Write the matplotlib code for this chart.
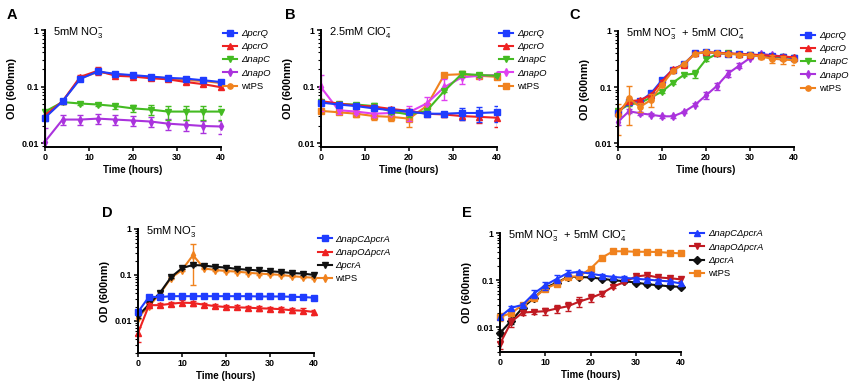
import numpy as np
import matplotlib
matplotlib.use('Agg')
from matplotlib import pyplot as plt

plt.rcParams['font.family'] = ['Liberation Sans', 'DejaVu Sans']
plt.rcParams['mathtext.fontset'] = 'custom'
plt.rcParams['mathtext.rm'] = 'Liberation Sans'
plt.rcParams['mathtext.it'] = 'Liberation Sans:italic'
plt.rcParams['mathtext.bf'] = 'Liberation Sans:bold'

# ---- data (OD600) ----
t4 = [0, 4, 8, 12, 16, 20, 24, 28, 32, 36, 40]
t25 = [0, 2.5, 5, 7.5, 10, 12.5, 15, 17.5, 20, 22.5, 25, 27.5, 30, 32.5, 35, 37.5, 40]

labels_abc = ['ΔpcrQ', 'ΔpcrO', 'ΔnapC', 'ΔnapO', 'wtPS']
labels_de = ['ΔnapCΔpcrA', 'ΔnapOΔpcrA', 'ΔpcrA', 'wtPS']

# A: 5mM NO3-
a_pcrQ = [0.028, 0.055, 0.136, 0.185, 0.167, 0.159, 0.150, 0.142, 0.138, 0.129, 0.120]
a_pcrO = [0.031, 0.055, 0.148, 0.190, 0.155, 0.150, 0.140, 0.134, 0.120, 0.110, 0.097]
a_napC = [0.036, 0.053, 0.050, 0.048, 0.045, 0.041, 0.039, 0.036, 0.036, 0.036, 0.036]
a_napO = [0.0106, 0.026, 0.026, 0.027, 0.026, 0.025, 0.024, 0.022, 0.021, 0.020, 0.0196]
a_wtPS = [0.029, 0.055, 0.140, 0.180, 0.165, 0.155, 0.148, 0.140, 0.130, 0.125, 0.115]
a_err_pcrQ = [0.003, 0.004, 0.01, 0.02, 0.01, 0.008, 0.008, 0.008, 0.008, 0.008, 0.008]
a_err_pcrO = [0.003, 0.004, 0.01, 0.03, 0.01, 0.008, 0.008, 0.008, 0.008, 0.008, 0.006]
a_err_napC = [0.003, 0.003, 0.003, 0.003, 0.005, 0.006, 0.008, 0.01, 0.01, 0.01, 0.01]
a_err_napO = [0.0075, 0.005, 0.005, 0.005, 0.005, 0.005, 0.005, 0.005, 0.005, 0.005, 0.005]
a_err_wtPS = [0.002, 0.003, 0.005, 0.01, 0.005, 0.005, 0.005, 0.005, 0.005, 0.005, 0.005]

# B: 2.5mM ClO4-
b_pcrQ = [0.052, 0.048, 0.045, 0.041, 0.038, 0.036, 0.033, 0.033, 0.034, 0.034, 0.035]
b_pcrO = [0.055, 0.050, 0.046, 0.044, 0.040, 0.037, 0.033, 0.032, 0.030, 0.029, 0.028]
b_napC = [0.054, 0.049, 0.048, 0.045, 0.036, 0.032, 0.037, 0.083, 0.167, 0.160, 0.155]
b_napO = [0.097, 0.038, 0.036, 0.033, 0.034, 0.035, 0.050, 0.097, 0.145, 0.155, 0.160]
b_wtPS = [0.037, 0.035, 0.033, 0.030, 0.029, 0.027, 0.045, 0.160, 0.165, 0.155, 0.148]
b_err_pcrQ = [0.004, 0.003, 0.003, 0.003, 0.003, 0.003, 0.003, 0.003, 0.008, 0.01, 0.011]
b_err_pcrO = [0.003, 0.003, 0.003, 0.003, 0.003, 0.003, 0.003, 0.003, 0.004, 0.006, 0.009]
b_err_napC = [0.003, 0.003, 0.004, 0.006, 0.003, 0.003, 0.003, 0.003, 0.02, 0.015, 0.01]
b_err_napO = [0.06, 0.005, 0.004, 0.004, 0.003, 0.01, 0.015, 0.04, 0.035, 0.01, 0.01]
b_err_wtPS = [0.003, 0.003, 0.004, 0.004, 0.004, 0.008, 0.005, 0.01, 0.01, 0.01, 0.01]

# C: 5mM NO3- + 5mM ClO4-
c_pcrQ = [0.035, 0.054, 0.056, 0.077, 0.133, 0.204, 0.26, 0.40, 0.42, 0.40, 0.39, 0.39, 0.38, 0.37, 0.36, 0.35, 0.33]
c_pcrO = [0.036, 0.056, 0.058, 0.072, 0.125, 0.21, 0.25, 0.40, 0.42, 0.41, 0.40, 0.39, 0.38, 0.37, 0.36, 0.35, 0.34]
c_napC = [0.037, 0.049, 0.052, 0.065, 0.083, 0.12, 0.165, 0.174, 0.31, 0.39, 0.40, 0.38, 0.37, 0.36, 0.35, 0.34, 0.33]
c_napO = [0.024, 0.037, 0.034, 0.032, 0.030, 0.030, 0.036, 0.048, 0.071, 0.105, 0.174, 0.24, 0.33, 0.39, 0.37, 0.35, 0.33]
c_wtPS = [0.032, 0.063, 0.044, 0.059, 0.11, 0.195, 0.26, 0.39, 0.42, 0.40, 0.39, 0.38, 0.37, 0.35, 0.32, 0.31, 0.30]
c_err_pcrQ = [0.002, 0.003, 0.003, 0.004, 0.008, 0.01, 0.01, 0.02, 0.02, 0.02, 0.02, 0.02, 0.02, 0.02, 0.02, 0.02, 0.02]
c_err_pcrO = [0.002, 0.003, 0.003, 0.004, 0.008, 0.01, 0.01, 0.02, 0.02, 0.02, 0.02, 0.02, 0.02, 0.02, 0.02, 0.02, 0.02]
c_err_napC = [0.002, 0.003, 0.003, 0.004, 0.005, 0.008, 0.01, 0.03, 0.02, 0.02, 0.02, 0.02, 0.02, 0.02, 0.02, 0.02, 0.02]
c_err_napO = [0.003, 0.003, 0.002, 0.002, 0.002, 0.002, 0.002, 0.003, 0.01, 0.015, 0.025, 0.025, 0.02, 0.02, 0.02, 0.02, 0.02]
c_err_wtPS = [0.018, 0.042, 0.008, 0.015, 0.01, 0.01, 0.01, 0.01, 0.01, 0.01, 0.01, 0.01, 0.02, 0.04, 0.05, 0.05, 0.05]

# D: 5mM NO3- (double mutants)
d_napCpcrA = [0.0156, 0.0335, 0.033, 0.0345, 0.0345, 0.0345, 0.0345, 0.0345, 0.0345, 0.0345, 0.0345, 0.034, 0.034, 0.034, 0.0335, 0.033, 0.032]
d_napOpcrA = [0.0054, 0.022, 0.022, 0.0236, 0.0249, 0.0245, 0.0225, 0.021, 0.020, 0.0197, 0.0194, 0.0188, 0.0185, 0.018, 0.017, 0.0167, 0.0156]
d_pcrA = [0.0128, 0.0229, 0.041, 0.089, 0.141, 0.165, 0.16, 0.15, 0.145, 0.135, 0.13, 0.125, 0.12, 0.116, 0.11, 0.107, 0.10]
d_wtPS = [0.0118, 0.021, 0.039, 0.086, 0.128, 0.27, 0.139, 0.128, 0.122, 0.118, 0.112, 0.107, 0.104, 0.10, 0.094, 0.09, 0.087]
d_err_napCpcrA = [0.002, 0.002, 0.002, 0.002, 0.002, 0.002, 0.002, 0.002, 0.002, 0.002, 0.002, 0.002, 0.002, 0.002, 0.002, 0.002, 0.002]
d_err_napOpcrA = [0.002, 0.002, 0.002, 0.002, 0.003, 0.003, 0.002, 0.002, 0.002, 0.002, 0.002, 0.002, 0.002, 0.002, 0.002, 0.002, 0.002]
d_err_pcrA = [0.001, 0.002, 0.003, 0.005, 0.005, 0.005, 0.005, 0.005, 0.005, 0.005, 0.005, 0.005, 0.005, 0.005, 0.005, 0.005, 0.005]
d_err_wtPS = [0.001, 0.002, 0.003, 0.005, 0.005, 0.21, 0.005, 0.005, 0.005, 0.005, 0.005, 0.005, 0.005, 0.005, 0.005, 0.005, 0.005]

# E: 5mM NO3- + 5mM ClO4- (double mutants)
e_napCpcrA = [0.0167, 0.026, 0.030, 0.052, 0.078, 0.106, 0.142, 0.15, 0.138, 0.125, 0.117, 0.112, 0.107, 0.103, 0.098, 0.094, 0.085]
e_napOpcrA = [0.0045, 0.0131, 0.0206, 0.0213, 0.022, 0.025, 0.028, 0.035, 0.042, 0.052, 0.073, 0.091, 0.12, 0.127, 0.114, 0.11, 0.104]
e_pcrA = [0.0076, 0.0138, 0.026, 0.042, 0.069, 0.088, 0.117, 0.117, 0.114, 0.107, 0.10, 0.095, 0.089, 0.082, 0.078, 0.074, 0.072]
e_wtPS = [0.0167, 0.020, 0.030, 0.042, 0.066, 0.084, 0.117, 0.121, 0.175, 0.30, 0.41, 0.41, 0.40, 0.40, 0.395, 0.38, 0.37]
e_err_napCpcrA = [0.002, 0.003, 0.003, 0.01, 0.015, 0.02, 0.02, 0.01, 0.008, 0.008, 0.008, 0.008, 0.008, 0.008, 0.008, 0.008, 0.008]
e_err_napOpcrA = [0.001, 0.003, 0.002, 0.002, 0.004, 0.005, 0.006, 0.008, 0.008, 0.006, 0.005, 0.005, 0.008, 0.008, 0.006, 0.006, 0.006]
e_err_pcrA = [0.001, 0.002, 0.002, 0.003, 0.005, 0.005, 0.005, 0.005, 0.005, 0.005, 0.005, 0.005, 0.005, 0.005, 0.005, 0.005, 0.005]
e_err_wtPS = [0.003, 0.003, 0.003, 0.004, 0.005, 0.005, 0.008, 0.008, 0.01, 0.01, 0.01, 0.01, 0.01, 0.01, 0.01, 0.01, 0.01]

BLUE = '#1f3cff'
RED = '#ee2222'
GREEN = '#44bb22'
PURPLE = '#aa33dd'
MAGENTA = '#e040f0'
ORANGE = '#f0821e'
BLACK = '#111111'
DARKRED = '#c01a22'

W, H = 856, 387
fig = plt.figure(figsize=(W / 100, H / 100), dpi=100)


def px_axes(left, top, right, bottom):
    return fig.add_axes([left / W, 1 - bottom / H, (right - left) / W, (bottom - top) / H])


def panel(ax, t, series, ylow, cond, order, leg_xy):
    lines = {}
    for y, err, c, m, lab in series:
        ax.errorbar(t, y, yerr=err, fmt='none', ecolor=c, elinewidth=1.0,
                    capsize=2, capthick=1.0)
        ln, = ax.plot(t, y, color=c, marker=m, markersize=3.8, lw=1.5, clip_on=False)
        lines[lab] = ln
    ax.set_yscale('log')
    ax.set_ylim(ylow, 1)
    ax.set_xlim(0, 40)
    ax.set_xticks([0, 10, 20, 30, 40])
    ax.set_yticks([0.01, 0.1, 1])
    ax.set_yticklabels(['0.01', '0.1', '1'])
    for s in ['top', 'right']:
        ax.spines[s].set_visible(False)
    for s in ['left', 'bottom']:
        ax.spines[s].set_linewidth(1.4)
    ax.tick_params(axis='both', which='major', length=3, width=1.1, labelsize=6.4, pad=1.5)
    ax.tick_params(axis='y', which='minor', length=2, width=0.8)
    for lb in ax.get_xticklabels() + ax.get_yticklabels():
        lb.set_fontweight('bold')
    ax.set_xlabel('Time (hours)', fontsize=7, fontweight='bold', labelpad=2)
    ax.set_ylabel('OD (600nm)', fontsize=7.8, fontweight='bold', labelpad=3)
    ax.text(0.045, 0.98, cond, transform=ax.transAxes, fontsize=8, va='center', ha='left')
    leg = ax.legend([lines[k] for k in order], order, loc='upper left', bbox_to_anchor=leg_xy,
                    frameon=False, fontsize=6.8, handlelength=1.5, handletextpad=0.4,
                    labelspacing=0.45, borderaxespad=0, borderpad=0)
    for txt in leg.get_texts():
        if txt.get_text() != 'wtPS':
            txt.set_fontstyle('italic')


no3 = r'5mM NO$_3^{\mathregular{-}}$'
clo4 = r'2.5mM ClO$_4^{\mathregular{-}}$'
both = r'5mM NO$_3^{\mathregular{-}}$  + 5mM ClO$_4^{\mathregular{-}}$'

axA = px_axes(45, 30, 221, 147)
panel(axA, t4, [(a_wtPS, a_err_wtPS, ORANGE, 'o', 'wtPS'),
                (a_napO, a_err_napO, PURPLE, 'd', 'ΔnapO'),
                (a_napC, a_err_napC, GREEN, 'v', 'ΔnapC'),
                (a_pcrO, a_err_pcrO, RED, '^', 'ΔpcrO'),
                (a_pcrQ, a_err_pcrQ, BLUE, 's', 'ΔpcrQ')], 0.0085, no3, labels_abc, (1.01, 1.01))

axB = px_axes(321, 30, 497, 147)
panel(axB, t4, [(b_wtPS, b_err_wtPS, ORANGE, 's', 'wtPS'),
                (b_napO, b_err_napO, MAGENTA, 'd', 'ΔnapO'),
                (b_napC, b_err_napC, GREEN, 'v', 'ΔnapC'),
                (b_pcrO, b_err_pcrO, RED, '^', 'ΔpcrO'),
                (b_pcrQ, b_err_pcrQ, BLUE, 's', 'ΔpcrQ')], 0.0085, clo4, labels_abc, (1.01, 1.01))

axC = px_axes(618, 31, 794, 147)
panel(axC, t25, [(c_napO, c_err_napO, PURPLE, 'd', 'ΔnapO'),
                 (c_napC, c_err_napC, GREEN, 'v', 'ΔnapC'),
                 (c_pcrQ, c_err_pcrQ, BLUE, 's', 'ΔpcrQ'),
                 (c_pcrO, c_err_pcrO, RED, '^', 'ΔpcrO'),
                 (c_wtPS, c_err_wtPS, ORANGE, 'o', 'wtPS')], 0.0085, both, labels_abc, (1.04, 1.0))

axD = px_axes(138, 229, 314, 353)
panel(axD, t25, [(d_wtPS, d_err_wtPS, ORANGE, 'd', 'wtPS'),
                 (d_pcrA, d_err_pcrA, BLACK, 'v', 'ΔpcrA'),
                 (d_napOpcrA, d_err_napOpcrA, RED, '^', 'ΔnapOΔpcrA'),
                 (d_napCpcrA, d_err_napCpcrA, BLUE, 's', 'ΔnapCΔpcrA')], 0.002, no3, labels_de, (1.02, 0.955))

axE = px_axes(500, 233, 681, 352)
panel(axE, t25, [(e_pcrA, e_err_pcrA, BLACK, 'D', 'ΔpcrA'),
                 (e_wtPS, e_err_wtPS, ORANGE, 's', 'wtPS'),
                 (e_napOpcrA, e_err_napOpcrA, DARKRED, 'v', 'ΔnapOΔpcrA'),
                 (e_napCpcrA, e_err_napCpcrA, BLUE, '^', 'ΔnapCΔpcrA')], 0.003, both, labels_de, (1.05, 1.03))

for letter, x, y in [('A', 12, 15), ('B', 290, 15), ('C', 575, 15), ('D', 107, 213), ('E', 467, 213)]:
    fig.text(x / W, 1 - y / H, letter, fontsize=10.5, fontweight='bold', ha='center', va='center')

fig.savefig('out.png', dpi=100)
